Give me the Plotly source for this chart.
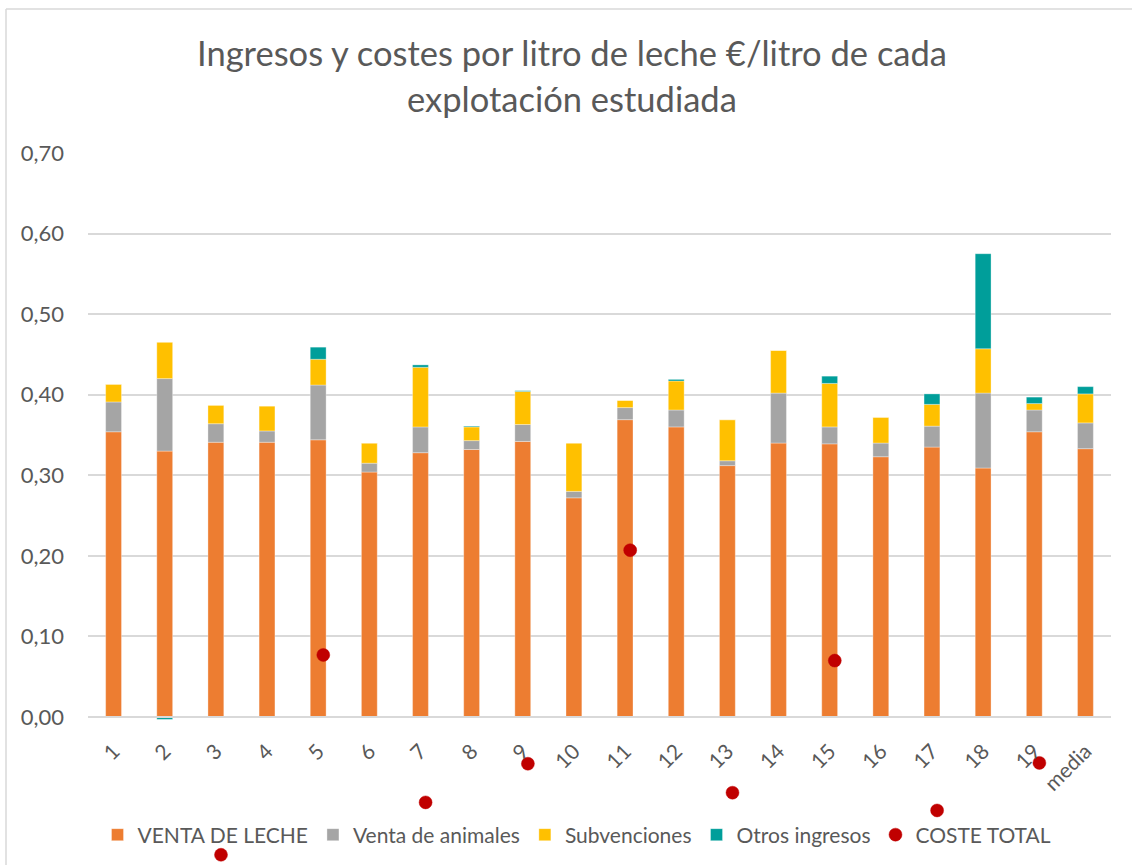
import plotly.graph_objects as go

categories = [str(i) for i in range(1, 20)] + ["media"]

venta_leche = [0.354, 0.330, 0.341, 0.341, 0.344, 0.304, 0.328, 0.332, 0.342, 0.272,
               0.369, 0.360, 0.312, 0.340, 0.339, 0.323, 0.335, 0.309, 0.354, 0.333]
venta_animales = [0.037, 0.090, 0.023, 0.014, 0.068, 0.011, 0.032, 0.011, 0.021, 0.008,
                  0.015, 0.021, 0.006, 0.062, 0.021, 0.017, 0.026, 0.093, 0.027, 0.032]
subvenciones = [0.022, 0.045, 0.023, 0.031, 0.032, 0.025, 0.074, 0.017, 0.041, 0.060,
                0.009, 0.036, 0.051, 0.053, 0.054, 0.032, 0.027, 0.055, 0.008, 0.036]
otros_ingresos = [0.0, -0.003, 0.0, 0.0, 0.015, 0.0, 0.003, 0.001, 0.001, 0.0,
                  0.0, 0.002, 0.0, 0.0, 0.009, 0.0, 0.013, 0.118, 0.008, 0.009]

coste_categories = ["3", "5", "7", "9", "11", "13", "15", "17", "19"]
coste_total = [-0.171, 0.077, -0.106, -0.058, 0.207, -0.094, 0.070, -0.116, -0.057]

y_ticks = [0.0, 0.1, 0.2, 0.3, 0.4, 0.5, 0.6, 0.7]
y_ticklabels = ["0,00", "0,10", "0,20", "0,30", "0,40", "0,50", "0,60", "0,70"]

FONT = "Lato"
TXT = "#595959"
edge = dict(width=0.6, color="rgba(255,255,255,0.55)")

# plot area in page pixels: top 153, bottom 862, left 88, right 1111
Y_MIN, Y_MAX = -0.18, 0.70
PLOT_TOP, PLOT_BOTTOM = 153, 862
def py(pix):
    return (PLOT_BOTTOM - pix) / (PLOT_BOTTOM - PLOT_TOP)
def px(pix):
    return (pix - 88) / (1111 - 88)
ZERO_POS = (0 - Y_MIN) / (Y_MAX - Y_MIN)

fig = go.Figure()
fig.add_trace(go.Bar(x=categories, y=venta_leche, name="VENTA DE LECHE",
                     marker=dict(color="#ED7D31", line=edge)))
fig.add_trace(go.Bar(x=categories, y=venta_animales, name="Venta de animales",
                     marker=dict(color="#A5A5A5", line=edge)))
fig.add_trace(go.Bar(x=categories, y=subvenciones, name="Subvenciones",
                     marker=dict(color="#FFC000", line=edge)))
fig.add_trace(go.Bar(x=categories, y=otros_ingresos, name="Otros ingresos",
                     marker=dict(color="#009E9A", line=edge)))
fig.add_trace(go.Scatter(x=coste_categories, y=coste_total, name="COSTE TOTAL",
                         mode="markers", xaxis="x2", yaxis="y",
                         marker=dict(color="#C00000", size=13, symbol="circle",
                                     line=dict(width=1, color="rgba(192,0,0,0.45)"))))

fig.update_layout(
    width=1132, height=865,
    margin=dict(l=88, r=21, t=PLOT_TOP, b=865 - PLOT_BOTTOM),
    paper_bgcolor="white", plot_bgcolor="rgba(0,0,0,0)",
    barmode="relative", bargap=0.69,
    font=dict(family=FONT, color=TXT, size=20),
    showlegend=True,
    legend=dict(orientation="h", x=px(577), xanchor="center", y=py(835), yanchor="middle",
                font=dict(family=FONT, size=21, color=TXT), traceorder="normal",
                bgcolor="rgba(0,0,0,0)"),
    xaxis=dict(type="category", categoryorder="array", categoryarray=categories,
               range=[-0.5, 19.5], tickangle=-45, showgrid=False,
               anchor="free", position=ZERO_POS,
               showline=True, linecolor="#D9D9D9", linewidth=1.5,
               ticks="", ticklabelstandoff=13,
               tickfont=dict(family=FONT, size=21, color=TXT)),
    xaxis2=dict(type="category", categoryorder="array", categoryarray=categories,
                range=[-0.6, 19.4], overlaying="x", visible=False),
    yaxis=dict(range=[Y_MIN, Y_MAX], tickvals=y_ticks, ticktext=y_ticklabels,
               showgrid=True, gridcolor="#D9D9D9", gridwidth=1.5,
               zeroline=False, showline=False, ticks="", ticklabelstandoff=23,
               tickfont=dict(family=FONT, size=22, color=TXT)),
    annotations=[
        dict(text="Ingresos y costes por litro de leche €/litro de cada",
             xref="paper", yref="paper", x=px(572), y=py(52),
             xanchor="center", yanchor="middle", showarrow=False,
             font=dict(family=FONT, size=34.5, color=TXT)),
        dict(text="explotación estudiada",
             xref="paper", yref="paper", x=px(572), y=py(99),
             xanchor="center", yanchor="middle", showarrow=False,
             font=dict(family=FONT, size=34.5, color=TXT)),
    ],
    shapes=[
        dict(type="line", xref="paper", yref="paper", x0=px(6), x1=px(6),
             y0=py(9), y1=py(880), line=dict(color="#D9D9D9", width=1.5)),
        dict(type="line", xref="paper", yref="paper", x0=px(6), x1=px(1140),
             y0=py(9), y1=py(9), line=dict(color="#D9D9D9", width=1.5)),
    ],
)

fig.write_html("out.html", config={"displayModeBar": False},
               post_script="document.body.style.margin='0';")
